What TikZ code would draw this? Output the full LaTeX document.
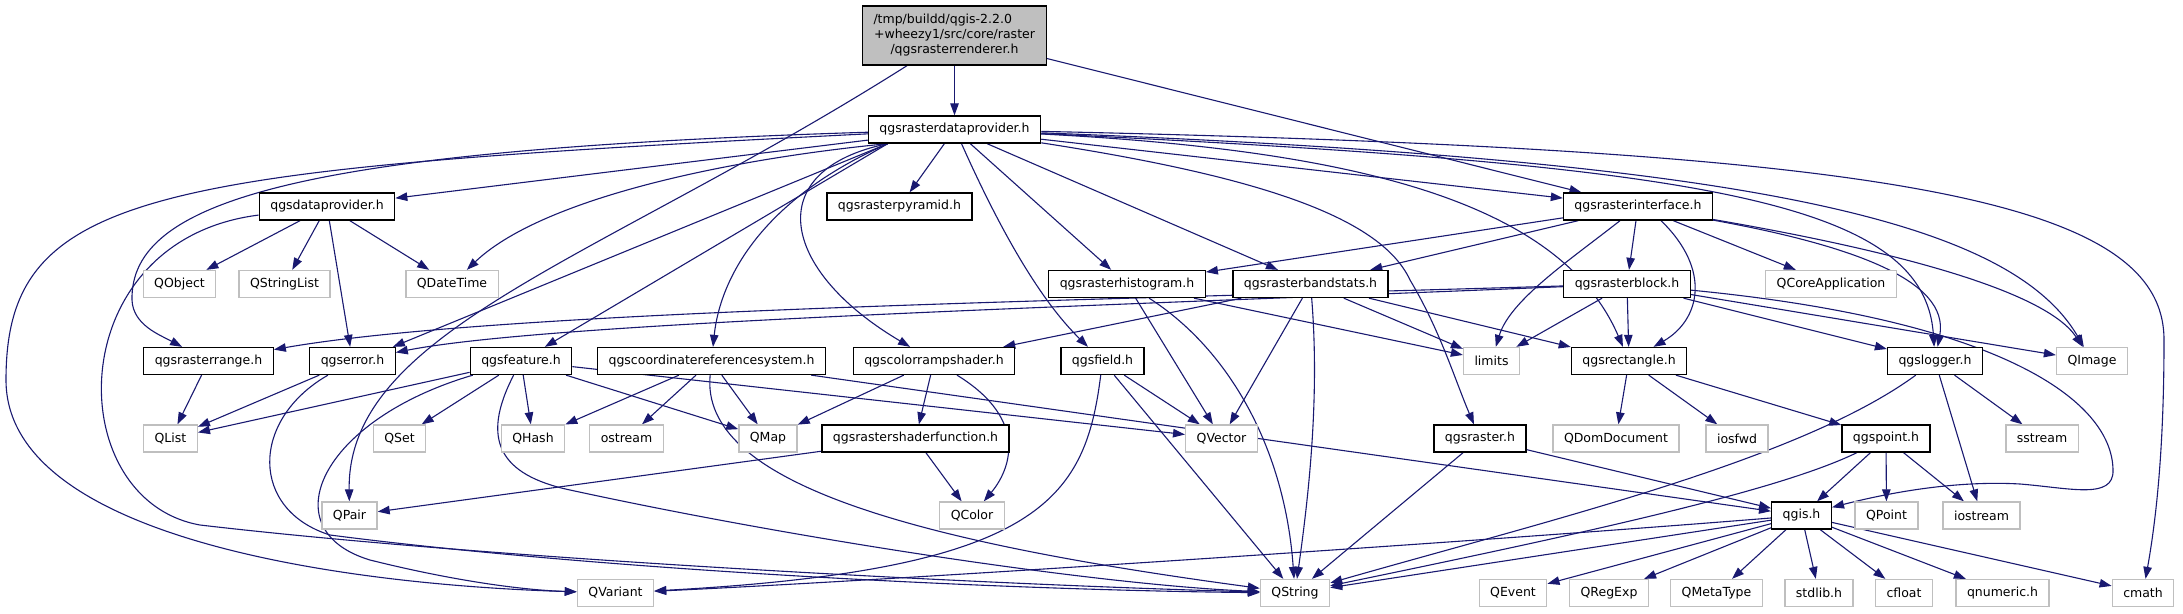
\documentclass[tikz,border=0pt]{standalone}
\usepackage{fontspec}
\setmainfont{DejaVu Sans}
\usetikzlibrary{arrows.meta,backgrounds}
\definecolor{edgeblue}{HTML}{191970}
\definecolor{extgrey}{HTML}{BFBFBF}
\tikzset{
  filebox/.style={
    draw=black,
    line width=1.3pt,
    fill=white,
    minimum height=27pt,
    inner xsep=11pt,
    inner ysep=0pt,
    font=\fontsize{12.5}{15}\selectfont
  },
  docfile/.style={filebox},
  sysfile/.style={filebox, draw=extgrey},
  mainfile/.style={filebox, fill=extgrey, minimum height=59pt, text width=162pt, align=center},
  incl/.style={draw=edgeblue, line width=1.1pt, -{Triangle[length=12pt,width=8.5pt]}}
}

\begin{document}
\begin{tikzpicture}[x=1pt, y=-1pt]
  \useasboundingbox (0,0) rectangle (2183,613);

  % included files, one row per level
  \node[mainfile] (renderer) at (954.5,35.5)
    {\makebox[162pt][l]{/tmp/buildd/qgis-2.2.0}\\+wheezy1/src/core/raster\\/qgsrasterrenderer.h};
  \node[docfile] (rdataprov) at (954.5,129.5) {qgsrasterdataprovider.h};

  \node[docfile] (dataprov) at (327,206.5) {qgsdataprovider.h};
  \node[docfile] (pyramid) at (899.5,206.5) {qgsrasterpyramid.h};
  \node[docfile] (iface) at (1638,206.5) {qgsrasterinterface.h};

  \node[sysfile] (qobject) at (179.5,284) {QObject};
  \node[sysfile] (qstringlist) at (284.5,284) {QStringList};
  \node[sysfile] (qdatetime) at (452,284) {QDateTime};
  \node[docfile] (histo) at (1127,284) {qgsrasterhistogram.h};
  \node[docfile] (bandstats) at (1310.5,284) {qgsrasterbandstats.h};
  \node[docfile] (block) at (1627,284) {qgsrasterblock.h};
  \node[sysfile] (coreapp) at (1831,284) {QCoreApplication};

  \node[docfile] (rrange) at (208.5,361) {qgsrasterrange.h};
  \node[docfile] (error) at (352.5,361) {qgserror.h};
  \node[docfile] (feature) at (521,361) {qgsfeature.h};
  \node[docfile] (crs) at (711.5,361) {qgscoordinatereferencesystem.h};
  \node[docfile] (ramp) at (934,361) {qgscolorrampshader.h};
  \node[docfile] (field) at (1102.5,361) {qgsfield.h};
  \node[sysfile] (limits) at (1491.5,361) {limits};
  \node[docfile] (rect) at (1629,361) {qgsrectangle.h};
  \node[docfile] (logger) at (1935,361) {qgslogger.h};
  \node[sysfile] (qimage) at (2092,361) {QImage};

  \node[sysfile] (qlist) at (170.5,438.5) {QList};
  \node[sysfile] (qset) at (399.5,438.5) {QSet};
  \node[sysfile] (qhash) at (533,438.5) {QHash};
  \node[sysfile] (ostream) at (626.5,438.5) {ostream};
  \node[sysfile] (qmap) at (768,438.5) {QMap};
  \node[docfile] (shaderfn) at (915.5,438.5) {qgsrastershaderfunction.h};
  \node[sysfile] (qvector) at (1221.5,438.5) {QVector};
  \node[docfile] (raster) at (1480,438.5) {qgsraster.h};
  \node[sysfile] (qdomdoc) at (1616,438.5) {QDomDocument};
  \node[sysfile] (iosfwd) at (1737,438.5) {iosfwd};
  \node[docfile] (point) at (1886,438.5) {qgspoint.h};
  \node[sysfile] (sstream) at (2042,438.5) {sstream};

  \node[sysfile] (qpair) at (349.5,515.5) {QPair};
  \node[sysfile] (qcolor) at (972,515.5) {QColor};
  \node[docfile] (qgis) at (1801.5,515.5) {qgis.h};
  \node[sysfile] (qpoint) at (1886.5,515.5) {QPoint};
  \node[sysfile] (iostream) at (1981.5,515.5) {iostream};

  \node[sysfile] (qvariant) at (615.5,593) {QVariant};
  \node[sysfile] (qstring) at (1295,593) {QString};
  \node[sysfile] (qevent) at (1513,593) {QEvent};
  \node[sysfile] (qregexp) at (1609,593) {QRegExp};
  \node[sysfile] (qmetatype) at (1716.5,593) {QMetaType};
  \node[sysfile] (stdlib) at (1819,593) {stdlib.h};
  \node[sysfile] (cfloat) at (1904,593) {cfloat};
  \node[sysfile] (qnumeric) at (2002.5,593) {qnumeric.h};
  \node[sysfile] (cmath) at (2143,593) {cmath};

  \begin{scope}[on background layer]
    % qgsrasterrenderer.h
    \draw[incl] (renderer) -- (rdataprov);
    \draw[incl] (renderer) -- (iface);
    \draw[incl] (renderer) .. controls (600,260) and (347,330) .. (qpair);

    % qgsrasterdataprovider.h
    \draw[incl] (rdataprov) -- (dataprov);
    \draw[incl] (rdataprov) -- (pyramid);
    \draw[incl] (rdataprov) -- (iface);
    \draw[incl] (rdataprov) -- (histo);
    \draw[incl] (rdataprov) -- (bandstats);
    \draw[incl] ([xshift=7pt]rdataprov.south) .. controls (1000,230) and (1040,300) .. (field);
    \draw[incl] ([xshift=20pt]rdataprov.south west) .. controls (720,160) and (540,200) .. (qdatetime);
    \draw[incl] ([xshift=20pt]rdataprov.south west) -- ([xshift=-3pt]error.north east);
    \draw[incl] ([xshift=20pt]rdataprov.south west) -- (feature);
    \draw[incl] ([xshift=20pt]rdataprov.south west) .. controls (760,200) and (720,280) .. (crs);
    \draw[incl] ([xshift=20pt]rdataprov.south west) .. controls (760,170) and (780,270) .. (ramp);
    \draw[incl] (rdataprov) .. controls (300,150) and (130,200) .. (132,300)
      .. controls (133,325) and (160,335) .. (rrange);
    \draw[incl] (rdataprov) .. controls (150,170) and (6,190) .. (6,380)
      .. controls (6,540) and (350,585) .. (qvariant);
    \draw[incl] (rdataprov) .. controls (1250,175) and (1380,215) .. (1410,280)
      .. controls (1440,330) and (1455,380) .. (raster);
    \draw[incl] (rdataprov) .. controls (1350,150) and (1560,200) .. (rect);
    \draw[incl] (rdataprov) .. controls (1700,165) and (1925,200) .. (logger);
    \draw[incl] (rdataprov) .. controls (1750,160) and (2010,220) .. (qimage);
    \draw[incl] (rdataprov) .. controls (1900,150) and (2164,200) .. (2164,340)
      .. controls (2164,450) and (2156,520) .. (cmath);

    % qgsdataprovider.h
    \draw[incl] (dataprov) -- (qobject);
    \draw[incl] (dataprov) -- (qstringlist);
    \draw[incl] (dataprov) -- (qdatetime);
    \draw[incl] (dataprov) -- (error);
    \draw[incl] (dataprov) .. controls (60,240) and (60,500) .. (200,525)
      .. controls (500,560) and (1000,585) .. (qstring);

    % qgsrasterinterface.h
    \draw[incl] (iface) -- (histo);
    \draw[incl] (iface) -- (bandstats);
    \draw[incl] (iface) -- (block);
    \draw[incl] (iface) -- (coreapp);
    \draw[incl] (iface) .. controls (1570,260) and (1510,300) .. (limits);
    \draw[incl] ([xshift=23pt]iface.south) .. controls (1712,270) and (1700,320) .. (rect);
    \draw[incl] (iface) .. controls (1850,245) and (1950,280) .. (logger);
    \draw[incl] (iface) .. controls (1890,250) and (2045,290) .. (qimage);

    % qgsrasterhistogram.h, qgsrasterbandstats.h
    \draw[incl] (histo) -- (qvector);
    \draw[incl] (histo) -- (limits);
    \draw[incl] (histo) .. controls (1230,350) and (1285,450) .. (qstring);
    \draw[incl] (bandstats) -- (ramp);
    \draw[incl] (bandstats) -- (qvector);
    \draw[incl] (bandstats) -- (limits);
    \draw[incl] (bandstats) -- (rect);
    \draw[incl] (bandstats) .. controls (1320,400) and (1308,500) .. (qstring);

    % qgsrasterblock.h
    \draw[incl] (block) .. controls (1100,300) and (500,310) .. (rrange);
    \draw[incl] (block) .. controls (1100,306) and (550,322) .. (error);
    \draw[incl] (block) -- (limits);
    \draw[incl] (block) -- (rect);
    \draw[incl] (block) -- (logger);
    \draw[incl] (block) -- (qimage);
    \draw[incl] (block) .. controls (2000,320) and (2112,400) .. (2113,470)
      .. controls (2114,500) and (2070,488) .. (2020,484)
      .. controls (1950,480) and (1880,495) .. (qgis.15);

    % row of qgserror.h, qgsfeature.h, ...
    \draw[incl] (rrange) -- (qlist);
    \draw[incl] (error) -- (qlist);
    \draw[incl] (error) .. controls (250,420) and (250,510) .. (330,535)
      .. controls (600,570) and (1000,590) .. (qstring);
    \draw[incl] (feature) -- (qlist);
    \draw[incl] (feature) -- (qset);
    \draw[incl] (feature) -- (qhash);
    \draw[incl] (feature) -- (qmap);
    \draw[incl] (feature) -- (qvector);
    \draw[incl] (feature) .. controls (480,440) and (500,475) .. (570,490)
      .. controls (800,540) and (1100,585) .. (qstring);
    \draw[incl] (feature) .. controls (320,420) and (270,530) .. (370,560)
      .. controls (450,580) and (520,590) .. (qvariant);
    \draw[incl] (crs) -- (qhash);
    \draw[incl] (crs) -- (ostream);
    \draw[incl] (crs) -- (qmap);
    \draw[incl] (crs) -- (qgis);
    \draw[incl] (crs) .. controls (700,480) and (900,540) .. (qstring);
    \draw[incl] (ramp) -- (qmap);
    \draw[incl] (ramp) -- (shaderfn);
    \draw[incl] (ramp) .. controls (1030,420) and (1010,470) .. (qcolor);
    \draw[incl] (shaderfn) -- (qpair);
    \draw[incl] (shaderfn) -- (qcolor);
    \draw[incl] (field) -- (qvector);
    \draw[incl] (field) -- (qstring);
    \draw[incl] (field) .. controls (1085,500) and (1040,570) .. (qvariant);

    % qgsrectangle.h, qgslogger.h, qgsraster.h, qgspoint.h
    \draw[incl] (rect) -- (qdomdoc);
    \draw[incl] (rect) -- (iosfwd);
    \draw[incl] (rect) -- (point);
    \draw[incl] (logger) -- (sstream);
    \draw[incl] (logger) -- (iostream);
    \draw[incl] (logger) .. controls (1800,460) and (1550,520) .. (qstring);
    \draw[incl] (raster) -- (qstring);
    \draw[incl] (raster) -- (qgis);
    \draw[incl] (point) -- (qgis);
    \draw[incl] (point) -- (qpoint);
    \draw[incl] (point) -- (iostream);
    \draw[incl] (point) .. controls (1780,490) and (1600,530) .. (qstring);

    % qgis.h
    \draw[incl] (qgis) -- (qstring);
    \draw[incl] (qgis) -- (qevent);
    \draw[incl] (qgis) -- (qregexp);
    \draw[incl] (qgis) -- (qmetatype);
    \draw[incl] (qgis) -- (stdlib);
    \draw[incl] (qgis) -- (cfloat);
    \draw[incl] (qgis) -- (qnumeric);
    \draw[incl] (qgis) -- (cmath);
    \draw[incl] (qgis) .. controls (1500,540) and (900,580) .. (qvariant);
  \end{scope}
\end{tikzpicture}
\end{document}
